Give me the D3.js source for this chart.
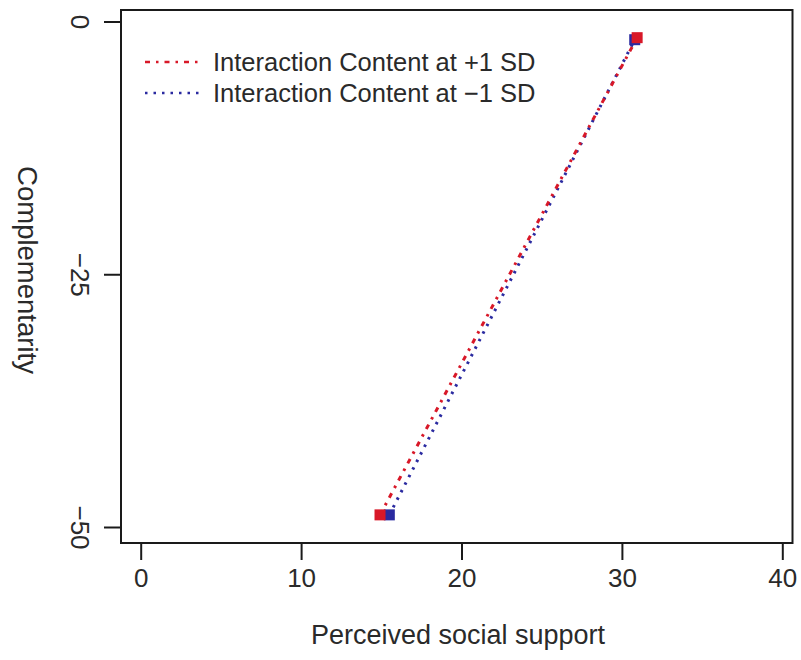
<!DOCTYPE html>
<html>
<head>
<meta charset="utf-8">
<script src="https://cdn.jsdelivr.net/npm/d3@7"></script>
<style>
  body { margin: 0; background: #fff; }
  text { font-family: "Liberation Sans", Arial, sans-serif; fill: #2a2a2a; }
</style>
</head>
<body>
<div id="chart"></div>
<script>
// simple slopes plot, two lines (+1 SD / -1 SD)
var xTicks = [0, 10, 20, 30, 40];
var yTicks = [0, -25, -50];
var seriesNames = ['Interaction Content at +1 SD', 'Interaction Content at \u22121 SD'];
var seriesColors = ['#d81828', '#2a2aa0'];
var plusX = [14.92, 30.95];
var plusY = [-48.8, -1.6];
var minusX = [15.5, 30.8];
var minusY = [-48.8, -1.8];

var W = 801, H = 660;
var box = { left: 121, right: 792.5, top: 10, bottom: 543 };
var fontFam = '"Liberation Sans", Arial, sans-serif';

var svg = d3.select('#chart').append('svg')
    .attr('width', W)
    .attr('height', H);

var x = d3.scaleLinear().domain([0, 40]).range([140.7, 782.3]);
var y = d3.scaleLinear().domain([0, -50]).range([21.5, 527]);

// frame
svg.append('rect')
    .attr('x', box.left).attr('y', box.top)
    .attr('width', box.right - box.left)
    .attr('height', box.bottom - box.top)
    .attr('fill', 'none')
    .attr('stroke', '#1a1a1a')
    .attr('stroke-width', 2);

// x axis
var xAxis = d3.axisBottom(x).tickValues(xTicks).tickSize(17).tickPadding(9);
var gx = svg.append('g')
    .attr('transform', 'translate(0,' + box.bottom + ')')
    .call(xAxis);
gx.select('.domain').remove();
gx.selectAll('line').attr('stroke', '#1a1a1a').attr('stroke-width', 2);
gx.selectAll('text').attr('font-size', 26).attr('fill', '#2a2a2a')
    .style('font-family', fontFam);

// y axis, labels turned like the picture
var yAxis = d3.axisLeft(y).tickValues(yTicks).tickSize(17).tickFormat(function(d){ return d < 0 ? '\u2212' + (-d) : d; });
var gy = svg.append('g')
    .attr('transform', 'translate(' + box.left + ',0)')
    .call(yAxis);
gy.select('.domain').remove();
gy.selectAll('line').attr('stroke', '#1a1a1a').attr('stroke-width', 2);
gy.selectAll('text')
    .attr('x', null).attr('dy', null)
    .attr('text-anchor', 'middle')
    .attr('dominant-baseline', 'central')
    .attr('font-size', 26).attr('fill', '#2a2a2a')
    .style('font-family', fontFam)
    .attr('transform', 'translate(-41,0) rotate(90)');

// axis titles
svg.append('text')
    .attr('x', 458).attr('y', 644)
    .attr('text-anchor', 'middle')
    .attr('font-size', 27)
    .text('Perceived social support');

svg.append('text')
    .attr('transform', 'translate(27,270) rotate(90)')
    .attr('text-anchor', 'middle')
    .attr('dominant-baseline', 'central')
    .attr('font-size', 27.5)
    .text('Complementarity');

// lines
var line = d3.line().x(function(d){ return x(d[0]); }).y(function(d){ return y(d[1]); });
var series = [
  { pts: d3.zip(minusX, minusY), color: seriesColors[1], dash: '2.5,6' },
  { pts: d3.zip(plusX, plusY), color: seriesColors[0], dash: '5,6,2.5,6' }
];

series.forEach(function(s){
  svg.append('path')
    .datum(s.pts)
    .attr('d', line)
    .attr('fill', 'none')
    .attr('stroke', s.color)
    .attr('stroke-width', 3)
    .attr('stroke-dasharray', s.dash);
  svg.selectAll(null)
    .data(s.pts)
    .enter().append('rect')
    .attr('x', function(d){ return x(d[0]) - 5.5; })
    .attr('y', function(d){ return y(d[1]) - 5.5; })
    .attr('width', 11).attr('height', 11)
    .attr('fill', s.color);
});

// legend
var legend = svg.append('g');
[1, 0].forEach(function(i, k){
  var ly = 62 + (i === 1 ? 31 : 0);
  var s = series[k];
  legend.append('line')
    .attr('x1', 145).attr('x2', 200)
    .attr('y1', ly).attr('y2', ly)
    .attr('stroke', s.color)
    .attr('stroke-width', 2.5)
    .attr('stroke-dasharray', s.dash);
  legend.append('text')
    .attr('x', 213).attr('y', ly)
    .attr('dominant-baseline', 'central')
    .attr('font-size', 25.5)
    .text(seriesNames[i]);
});
</script>
</body>
</html>
